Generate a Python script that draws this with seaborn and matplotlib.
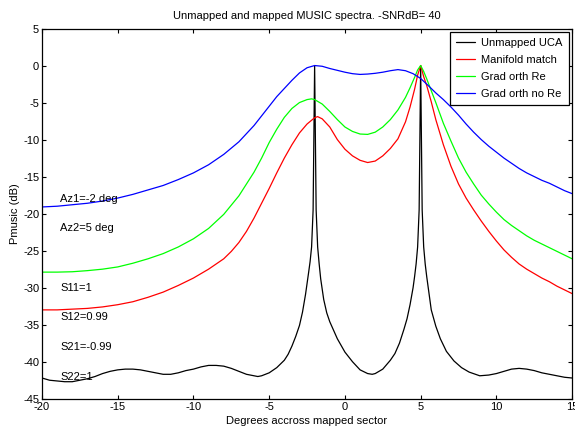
import matplotlib
matplotlib.use("Agg")
import matplotlib.pyplot as plt
import seaborn as sns
import pandas as pd

# ---- data ----
blue_x = [-20, -19, -18, -17, -16, -15, -14, -13, -12, -11, -10, -9, -8, -7, -6, -5, -4.5, -4,
          -3.5, -3, -2.5, -2.0, -1.5, -1, -0.5, 0, 0.5, 1.0, 1.5, 2.0, 2.5, 3.0, 3.5, 4.0, 4.5,
          5.0, 5.5, 6.0, 6.5, 7.0, 7.5, 8, 8.5, 9, 9.5, 10, 10.5, 11, 11.5, 12, 12.5, 13, 13.5,
          14, 14.5, 15]
blue_y = [-19.1, -19.0, -18.8, -18.6, -18.3, -17.9, -17.4, -16.8, -16.2, -15.4, -14.5, -13.4,
          -12.0, -10.3, -8.1, -5.5, -4.2, -3.1, -2.0, -1.0, -0.3, 0.0, -0.1, -0.4, -0.65, -0.9,
          -1.1, -1.2, -1.15, -1.05, -0.9, -0.7, -0.55, -0.7, -1.1, -1.75, -2.7, -3.7, -4.6, -5.6,
          -6.7, -7.9, -9.0, -10.0, -10.9, -11.7, -12.5, -13.2, -13.9, -14.5, -15.0, -15.5,
          -15.9, -16.4, -16.9, -17.3]

green_x = [-20, -19, -18, -17, -16, -15, -14, -13, -12, -11, -10, -9, -8, -7, -6, -5.5, -5,
           -4.5, -4, -3.5, -3, -2.5, -2.2, -2, -1.5, -1, -0.5, 0, 0.5, 1.0, 1.5, 2.0, 2.5, 3.0,
           3.5, 4.0, 4.3, 4.6, 4.8, 5.0, 5.2, 5.4, 5.7, 6.0, 6.5, 7.0, 7.5, 8.0, 8.5, 9.0, 9.5,
           10, 10.5, 11, 11.5, 12, 12.5, 13, 13.5, 14, 14.5, 15]
green_y = [-27.9, -27.9, -27.85, -27.7, -27.5, -27.2, -26.7, -26.1, -25.4, -24.5, -23.4, -22.0,
           -20.1, -17.6, -14.4, -12.5, -10.4, -8.6, -7.0, -5.8, -5.0, -4.6, -4.5, -4.6, -5.2,
           -6.2, -7.3, -8.3, -8.9, -9.25, -9.3, -9.0, -8.3, -7.3, -6.0, -4.3, -3.0, -1.6, -0.6,
           0.0, -0.8, -1.8, -3.4, -5.0, -7.8, -10.2, -12.5, -14.4, -16.0, -17.5, -18.7, -19.8,
           -20.8, -21.6, -22.3, -23.0, -23.6, -24.1, -24.6, -25.1, -25.6, -26.1]

red_x = [-20, -19, -18, -17, -16, -15, -14, -13, -12, -11, -10, -9, -8, -7.5, -7, -6.5, -6,
         -5.5, -5, -4.5, -4, -3.5, -3, -2.5, -2.0, -1.8, -1.5, -1.0, -0.5, 0, 0.5, 1.0, 1.5,
         2.0, 2.5, 3.0, 3.5, 4.0, 4.3, 4.6, 4.8, 5.0, 5.2, 5.4, 5.7, 6.0, 6.5, 7.0, 7.5, 8.0,
         8.5, 9.0, 9.5, 10, 10.5, 11, 11.5, 12, 12.5, 13, 13.5, 14, 14.5, 15]
red_y = [-33.0, -33.0, -32.9, -32.8, -32.6, -32.3, -31.9, -31.3, -30.6, -29.7, -28.7, -27.5,
         -26.1, -25.1, -23.9, -22.4, -20.6, -18.6, -16.6, -14.5, -12.5, -10.7, -9.1, -7.9,
         -7.05, -6.9, -7.2, -8.3, -10.0, -11.3, -12.2, -12.8, -13.1, -12.9, -12.2, -11.2, -9.9,
         -7.6, -5.6, -3.2, -1.3, 0.0, -1.5, -2.7, -4.9, -7.3, -10.7, -13.6, -16.0, -17.9,
         -19.5, -21.0, -22.4, -23.7, -24.9, -25.9, -26.8, -27.5, -28.1, -28.7, -29.2, -29.8,
         -30.3, -30.8]

black_x = [-20, -19.5, -19, -18.5, -18, -17.5, -17, -16.5, -16, -15.5, -15, -14.5, -14, -13.5,
           -13, -12.5, -12, -11.5, -11, -10.5, -10, -9.5, -9, -8.5, -8, -7.5, -7, -6.5, -6,
           -5.75, -5.5, -5, -4.5, -4, -3.75, -3.5, -3.25, -3, -2.8, -2.6, -2.4, -2.3, -2.2,
           -2.1, -2.0, -1.9, -1.8, -1.7, -1.6, -1.4, -1.2, -1.0, -0.5, 0, 0.5, 1.0, 1.5, 1.8,
           2.0, 2.5, 3.0, 3.3, 3.6, 3.9, 4.1, 4.3, 4.5, 4.6, 4.7, 4.8, 4.9, 5.0, 5.1, 5.2, 5.3,
           5.4, 5.5, 5.7, 6.0, 6.3, 6.7, 7.2, 7.7, 8.2, 8.9, 9.5, 10, 10.5, 11, 11.5, 12, 12.5,
           13, 13.5, 14, 14.5, 15]
black_y = [-42.2, -42.5, -42.6, -42.7, -42.7, -42.5, -42.3, -42.0, -41.6, -41.3, -41.1, -41.0,
           -41.0, -41.1, -41.3, -41.5, -41.7, -41.7, -41.5, -41.2, -41.0, -40.7, -40.5, -40.5,
           -40.6, -40.9, -41.3, -41.7, -41.9, -42.0, -41.9, -41.5, -40.8, -39.8, -39.0, -37.9,
           -36.6, -35.1, -33.3, -30.9, -28.0, -26.5, -24.5, -19.5, 0.0, -19.5, -24.5, -26.8,
           -28.8, -31.6, -33.4, -34.6, -36.9, -38.7, -40.0, -41.1, -41.6, -41.7, -41.6, -41.0,
           -39.8, -38.9, -37.5, -35.6, -34.2, -32.3, -30.0, -28.5, -26.8, -24.5, -19.5, 0.0,
           -19.5, -24.5, -26.8, -28.5, -30.0, -33.0, -35.2, -36.9, -38.6, -39.9, -40.8, -41.4,
           -41.9, -41.8, -41.6, -41.3, -41.0, -40.9, -41.0, -41.2, -41.5, -41.7, -41.9, -42.1,
           -42.2]

series_names = ["Unmapped UCA", "Manifold match", "Grad orth Re", "Grad orth no Re"]
series_colors = ["#000000", "#ff0000", "#00ff00", "#0000ff"]
series_x = [black_x, red_x, green_x, blue_x]
series_y = [black_y, red_y, green_y, blue_y]

notes = ["Az1=-2 deg", "Az2=5 deg", "S11=1", "S12=0.99", "S21=-0.99", "S22=1"]
note_y = [-18, -22, -30, -34, -38, -42]
note_x = -18.8

title = "Unmapped and mapped MUSIC spectra. -SNRdB= 40"
xlabel = "Degrees accross mapped sector"
ylabel = "Pmusic (dB)"
xticks = [-20, -15, -10, -5, 0, 5, 10, 15]
yticks = [5, 0, -5, -10, -15, -20, -25, -30, -35, -40, -45]

# ---- plotting ----
sns.set_theme(style="ticks")
plt.rcParams["font.family"] = ["Liberation Sans", "DejaVu Sans"]
plt.rcParams["axes.unicode_minus"] = False
plt.rcParams["xtick.direction"] = "in"
plt.rcParams["ytick.direction"] = "in"
for key in ["text.color", "axes.labelcolor", "xtick.color", "ytick.color", "axes.edgecolor"]:
    plt.rcParams[key] = "black"

fig = plt.figure(figsize=(5.75, 4.32), dpi=100)
ax = fig.add_axes([0.073, 0.077, 0.922, 0.857])

for name, col, xs, ys in zip(series_names, series_colors, series_x, series_y):
    df = pd.DataFrame({"x": xs, "y": ys})
    sns.lineplot(data=df, x="x", y="y", ax=ax, color=col, label=name,
                 sort=False, estimator=None, linewidth=0.9)

for t, yv in zip(notes, note_y):
    ax.text(note_x, yv, t, ha="left", va="center", fontsize=8)

ax.set_xlim(-20, 15)
ax.set_ylim(-45, 5)
ax.set_xticks(xticks)
ax.set_yticks(yticks)
ax.tick_params(labelsize=8, length=3, width=0.8, top=True, right=True, pad=2)
for s in ax.spines.values():
    s.set_linewidth(0.9)
    s.set_color("black")
ax.set_title(title, fontsize=8, pad=7)
ax.set_xlabel(xlabel, fontsize=8, labelpad=3)
ax.set_ylabel(ylabel, fontsize=8, labelpad=2)

leg = ax.legend(loc="upper right", fontsize=8, frameon=True, fancybox=False,
                edgecolor="black", framealpha=1, handlelength=1.7, borderaxespad=0.3,
                labelspacing=0.62, borderpad=0.55, handletextpad=0.6)
leg.get_frame().set_linewidth(0.9)

fig.savefig("out.png", dpi=100)
